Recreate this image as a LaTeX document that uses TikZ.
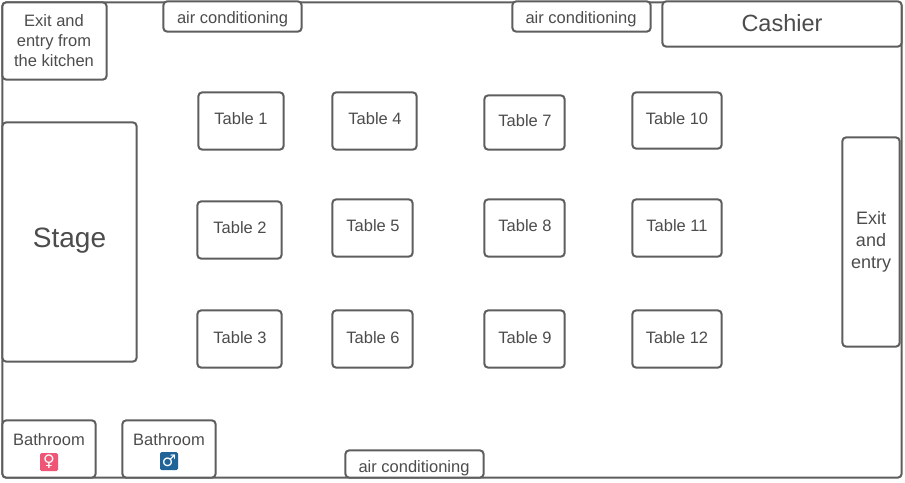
\documentclass[tikz,border=0pt]{standalone}
\usepackage{fontspec}
\setmainfont{Liberation Sans}
\newfontfamily\symfont{DejaVu Sans}
\definecolor{edge}{HTML}{5E5E5E}
\definecolor{ink}{HTML}{4C4C4C}
\definecolor{femcol}{HTML}{EF5675}
\definecolor{malcol}{HTML}{1F6399}
\tikzset{
  x=1pt,y=-1pt,
  room/.style={draw=edge,line width=2pt,rounded corners=4pt,fill=white,inner sep=0pt},
  lab/.style={text=ink,inner sep=0pt,align=center,font=\fontsize{16.5}{20}\selectfont},
  icon/.style={rounded corners=1.5pt,minimum size=18pt,inner sep=0pt,text=white,font=\fontsize{16}{16}\symfont}
}
% name, x1, y1, x2, y2, label x, label y, label style, text
\newcommand{\roombox}[9]{%
  \pgfmathsetmacro{\rw}{#4-#2}\pgfmathsetmacro{\rh}{#5-#3}%
  \node[room,minimum width=\rw pt-0.6pt,minimum height=\rh pt-0.6pt] (#1) at ({(#2+#4)/2},{(#3+#5)/2}) {};
  \node[lab,#8] (#1text) at (#6,#7) {#9};
}
\begin{document}
\begin{tikzpicture}
\useasboundingbox (0,0) rectangle (905,482);
\node[room,minimum width=899.4pt,minimum height=475.4pt] (hall) at (452,240) {};
\roombox{kitchen}{2}{2}{107}{80}{54}{40.5}{}{Exit and\\entry from\\the kitchen}
\roombox{acone}{163}{1}{302}{32}{232.5}{19.5}{}{air conditioning}
\roombox{actwo}{512}{1}{651}{32}{581}{19.5}{}{air conditioning}
\roombox{acthree}{345}{450}{484}{478}{414}{468.5}{}{air conditioning}
\roombox{cashier}{662}{1}{902}{47}{782}{23.5}{font=\fontsize{23.5}{28}\selectfont}{Cashier}
\roombox{stage}{2}{122}{137}{362}{69.5}{241}{font=\fontsize{28}{32}\selectfont}{Stage}
\roombox{exit}{842}{137}{900}{347}{871}{242}{font=\fontsize{18}{22}\selectfont}{Exit\\and\\entry}
\roombox{tone}{198}{92}{284}{150}{241}{119}{}{Table 1}
\roombox{ttwo}{197}{201}{282}{259}{240}{228}{}{Table 2}
\roombox{tthree}{197}{310}{282}{368}{240}{338}{}{Table 3}
\roombox{tfour}{332}{92}{417}{150}{375}{119}{}{Table 4}
\roombox{tfive}{332}{199}{413}{257}{373}{226}{}{Table 5}
\roombox{tsix}{332}{310}{413}{368}{373}{338}{}{Table 6}
\roombox{tseven}{484}{95}{565}{150}{525}{121}{}{Table 7}
\roombox{teight}{484}{199}{565}{257}{525}{226}{}{Table 8}
\roombox{tnine}{484}{310}{565}{368}{525}{338}{}{Table 9}
\roombox{tten}{632}{92}{722}{149}{677}{119}{}{Table 10}
\roombox{televen}{632}{199}{722}{257}{677}{226}{}{Table 11}
\roombox{ttwelve}{632}{310}{722}{368}{677}{338}{}{Table 12}
\roombox{bathf}{2}{420}{96}{478}{49}{440}{}{Bathroom}
\roombox{bathm}{122}{420}{216}{478}{169}{440}{}{Bathroom}
\node[icon,fill=femcol] (iconf) at (49,462) {♀};
\node[icon,fill=malcol] (iconm) at (169,461) {♂};
\end{tikzpicture}
\end{document}
